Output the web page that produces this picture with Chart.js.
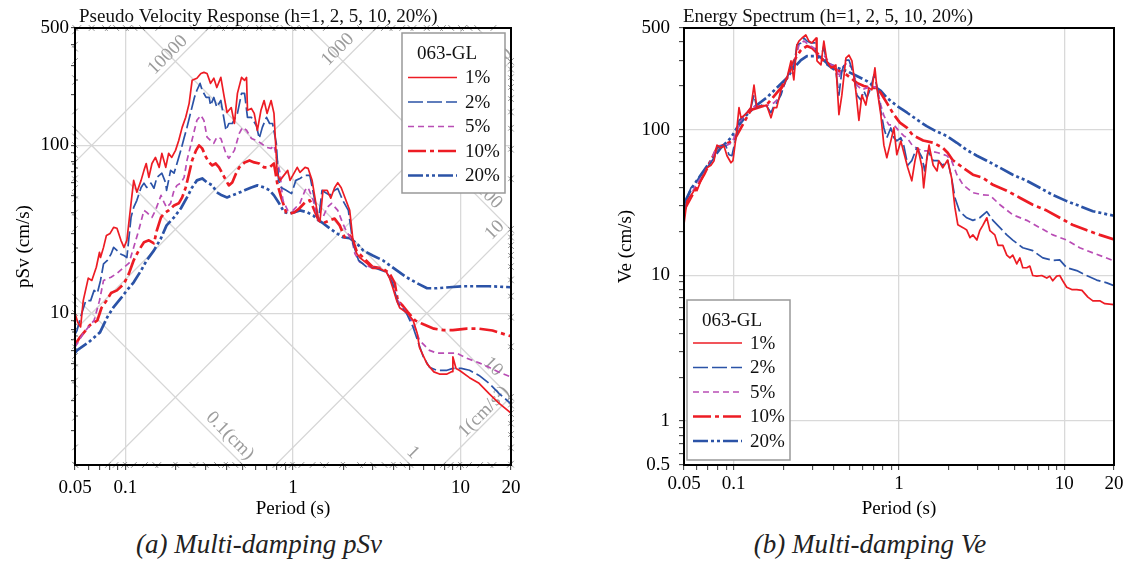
<!DOCTYPE html>
<html><head><meta charset="utf-8">
<script src="https://cdn.jsdelivr.net/npm/chart.js@4.4.1/dist/chart.umd.min.js"></script>
<style>
html,body{margin:0;padding:0;background:#fff;}
#wrap{position:relative;width:1128px;height:562px;overflow:hidden;background:#fff;}
.box{position:absolute;top:0;width:564px;height:520px;}
#b1{left:0;} #b2{left:564px;}
.cap{position:absolute;top:529px;font-family:"Liberation Serif",serif;font-style:italic;font-size:27px;color:#222;white-space:nowrap;transform:translateX(-50%);line-height:31px;}
</style></head>
<body><div id="wrap">
<div class="box" id="b1"><canvas id="c1" width="564" height="520"></canvas></div>
<div class="box" id="b2"><canvas id="c2" width="564" height="520"></canvas></div>
<div class="cap" style="left:259px">(a) Multi-damping pSv</div>
<div class="cap" style="left:870px">(b) Multi-damping Ve</div>
</div>
<script>
// ---------- data: [period (s), value (cm/s)] ----------
const psv1 = [[0.05,10.0],[0.052,8.8],[0.054,8.3],[0.056,11.9],[0.060,16.2],[0.063,15.7],[0.067,18.8],[0.070,23.1],[0.071,21.5],[0.074,24.7],[0.077,29.1],[0.081,29.9],[0.085,32.5],[0.089,32.1],[0.094,27.2],[0.098,24.7],[0.102,27.2],[0.108,45.2],[0.112,61.9],[0.117,52.6],[0.124,61.9],[0.129,71.0],[0.133,78.0],[0.138,64.5],[0.144,78.0],[0.151,84.8],[0.159,74.0],[0.165,89.6],[0.174,74.0],[0.181,89.6],[0.189,84.8],[0.199,93.4],[0.208,107],[0.218,128],[0.229,147],[0.240,178],[0.250,244],[0.267,251],[0.282,268],[0.294,272],[0.307,268],[0.322,234],[0.337,251],[0.351,221],[0.371,254],[0.389,193],[0.404,157],[0.428,168],[0.447,135],[0.466,204],[0.493,254],[0.514,244],[0.528,254],[0.535,162],[0.564,166],[0.587,155],[0.613,123],[0.644,162],[0.672,185],[0.700,155],[0.740,185],[0.770,155],[0.805,68],[0.837,61.9],[0.93,71],[0.96,61.9],[1.06,74],[1.10,69],[1.18,74],[1.23,73],[1.30,61.9],[1.36,47.1],[1.42,35.8],[1.45,35.8],[1.51,54],[1.60,54],[1.68,48.5],[1.77,56],[1.85,60],[1.94,56],[2.07,47.1],[2.18,41],[2.28,27.2],[2.40,22.7],[2.50,21.5],[2.75,19.9],[2.99,18.5],[3.29,18.5],[3.61,17.6],[3.77,16.2],[3.93,14.3],[4.16,11.9],[4.33,10.8],[4.83,10.0],[5.21,9.08],[5.51,7.6],[5.69,6.25],[6.31,5.0],[6.93,4.48],[7.48,4.35],[8.3,4.35],[8.9,4.5],[9.0,5.5],[9.4,4.7],[9.83,4.58],[11.3,4.14],[12.9,3.83],[14.8,3.33],[17.0,2.91],[20,2.55]];
const psv2 = [[0.05,7.5],[0.0514,7.9],[0.054,9.5],[0.058,11.9],[0.062,11.9],[0.065,13.7],[0.068,13.2],[0.071,15.7],[0.074,19.7],[0.078,20.7],[0.082,22.5],[0.085,24.7],[0.089,23.7],[0.094,22.5],[0.098,22.1],[0.102,21.5],[0.108,37.3],[0.112,42.7],[0.117,47.1],[0.124,56.2],[0.129,59.6],[0.134,56.2],[0.142,59.6],[0.148,55.6],[0.154,64.5],[0.165,68.3],[0.174,59.6],[0.176,54.0],[0.186,71.0],[0.195,68.3],[0.203,78.0],[0.214,93.4],[0.224,111],[0.233,128],[0.247,162],[0.258,193],[0.267,213],[0.279,234],[0.287,213],[0.303,193],[0.316,193],[0.322,173],[0.337,193],[0.351,169],[0.371,185],[0.398,123],[0.414,135],[0.434,135],[0.466,155],[0.493,204],[0.514,204],[0.535,147],[0.564,147],[0.605,131],[0.629,110],[0.656,128],[0.695,147],[0.725,135],[0.755,135],[0.795,103],[0.82,61.9],[0.85,56.2],[0.91,54.0],[0.98,51.6],[1.04,61.9],[1.10,63.6],[1.18,66.3],[1.26,66.3],[1.36,45.2],[1.42,35.8],[1.49,54.0],[1.55,52.6],[1.66,50.4],[1.77,54.0],[1.85,55.4],[1.98,47.1],[2.14,41.0],[2.28,26.1],[2.46,20.7],[2.75,18.9],[3.14,18.5],[3.61,17.6],[3.93,15.1],[4.22,11.5],[4.76,10.0],[5.21,8.27],[5.62,6.6],[6.0,5.5],[6.52,4.78],[7.2,4.58],[8.3,4.58],[9.0,4.7],[10.1,4.7],[11.3,4.58],[12.9,4.27],[14.8,3.83],[17.0,3.33],[20,2.89]];
const psv5 = [[0.05,6.3],[0.052,6.7],[0.056,7.6],[0.065,9.08],[0.070,11.9],[0.074,15.7],[0.082,16.4],[0.089,17.3],[0.098,18.8],[0.105,19.9],[0.112,24.7],[0.120,31.2],[0.129,41.0],[0.134,39.9],[0.144,37.3],[0.151,41.0],[0.163,50.4],[0.170,45.8],[0.176,42.7],[0.186,45.2],[0.195,54.0],[0.203,57.8],[0.214,59.6],[0.224,64.5],[0.233,81.4],[0.247,103],[0.258,123],[0.267,141],[0.282,151],[0.294,141],[0.307,112],[0.322,107],[0.337,103],[0.351,112],[0.371,110],[0.398,89.6],[0.414,83.7],[0.447,93.4],[0.478,118],[0.50,128],[0.528,123],[0.564,110],[0.605,107],[0.644,103],[0.695,97.3],[0.740,95.9],[0.770,100],[0.805,81.4],[0.837,68.3],[0.87,47.1],[0.93,41.0],[1.0,41.0],[1.10,45.2],[1.18,54.0],[1.23,56.2],[1.32,47.1],[1.42,35.8],[1.51,37.3],[1.60,42.7],[1.70,45.2],[1.85,41.0],[1.98,34.4],[2.07,31.2],[2.25,27.2],[2.34,22.7],[2.50,20.2],[2.87,18.9],[3.29,18.5],[3.61,17.6],[3.87,15.7],[4.16,12.2],[4.76,10.0],[5.21,8.8],[5.69,6.9],[6.52,6.02],[7.2,5.8],[8.3,5.8],[9.5,5.8],[10.9,5.4],[12.9,5.07],[14.8,4.77],[17.0,4.46],[20,4.18]];
const psv10 = [[0.05,6.5],[0.0535,7.2],[0.0614,8.5],[0.068,9.08],[0.072,10.8],[0.077,11.9],[0.082,13.2],[0.089,13.7],[0.098,15.0],[0.105,17.3],[0.112,20.7],[0.120,23.7],[0.129,26.5],[0.138,27.2],[0.148,26.1],[0.154,31.2],[0.163,37.3],[0.170,39.3],[0.181,41.0],[0.195,43.9],[0.208,45.2],[0.218,49.0],[0.229,56.2],[0.240,68.3],[0.250,81.4],[0.264,93.4],[0.275,100],[0.287,96],[0.303,84.8],[0.316,79.2],[0.330,76.0],[0.346,78.0],[0.362,74.0],[0.376,69.1],[0.398,61.9],[0.414,57.8],[0.434,60.2],[0.457,68.1],[0.478,74],[0.514,79.2],[0.550,81.4],[0.587,79.2],[0.629,78.0],[0.672,74.0],[0.725,74.0],[0.770,78.0],[0.805,59.6],[0.85,49.0],[0.91,40.0],[0.96,39.3],[1.02,40.0],[1.09,42.1],[1.18,45.8],[1.26,47.1],[1.32,42.7],[1.42,35.8],[1.51,34.4],[1.66,35.8],[1.77,36.7],[1.90,33.4],[2.03,28.4],[2.18,29.1],[2.28,27.2],[2.40,23.4],[2.62,21.5],[2.99,18.9],[3.43,18.5],[3.77,17.3],[4.05,15.1],[4.22,11.9],[4.52,11.1],[4.83,10.2],[5.35,9.08],[6.0,8.6],[6.93,8.1],[7.9,7.95],[9.0,7.95],[10.9,8.1],[12.9,8.1],[15.5,7.9],[20,7.3]];
const psv20 = [[0.05,5.8],[0.0514,6.02],[0.060,6.7],[0.0705,7.7],[0.078,9.5],[0.085,10.9],[0.094,12.3],[0.102,13.7],[0.112,15.3],[0.124,18.0],[0.134,20.7],[0.148,23.7],[0.163,28.0],[0.176,33.4],[0.195,37.3],[0.214,42.1],[0.233,49.0],[0.250,56.2],[0.267,61.9],[0.287,63.6],[0.307,60.2],[0.330,57.8],[0.351,52.6],[0.376,50.4],[0.404,49.0],[0.434,50.4],[0.466,51.8],[0.514,54.0],[0.564,56.2],[0.613,57.8],[0.672,56.2],[0.725,54.0],[0.770,50.4],[0.826,45.2],[0.887,40.0],[0.95,39.3],[1.02,40.0],[1.10,41.0],[1.21,40.0],[1.32,38.3],[1.42,35.8],[1.51,34.4],[1.66,32.0],[1.83,29.9],[1.98,28.4],[2.18,28.0],[2.40,26.1],[2.62,23.7],[2.99,22.1],[3.43,20.7],[3.93,18.8],[4.76,16.4],[5.51,15.1],[6.31,14.1],[7.2,14.1],[8.57,14.3],[10.3,14.5],[12.5,14.5],[14.8,14.5],[20,14.3]];

const ve1 = [[0.05,22.5],[0.0521,32.5],[0.0551,35.5],[0.0575,38.2],[0.0591,40.0],[0.0599,38.2],[0.0633,44.7],[0.0661,49.2],[0.0689,54.9],[0.0728,57.1],[0.076,61.4],[0.0792,78.5],[0.0837,75.3],[0.0873,77.5],[0.091,66.4],[0.0962,59.4],[0.0989,61.4],[0.1031,88.2],[0.1076,142],[0.1106,121],[0.1153,125],[0.120,131],[0.127,142],[0.1326,203],[0.138,142],[0.144,146],[0.152,146],[0.158,148],[0.168,121],[0.175,142],[0.182,142],[0.193,188],[0.201,203],[0.210,227],[0.222,297],[0.231,220],[0.241,382],[0.248,407],[0.259,427],[0.273,448],[0.285,407],[0.297,395],[0.315,427],[0.319,297],[0.337,279],[0.351,407],[0.366,297],[0.388,266],[0.415,279],[0.433,127],[0.451,173],[0.477,311],[0.498,326],[0.519,297],[0.548,185],[0.572,116],[0.596,173],[0.630,148],[0.657,194],[0.685,188],[0.715,266],[0.735,194],[0.776,127],[0.810,78.5],[0.844,64.3],[0.892,83.7],[0.931,103],[0.970,67.4],[1.026,83.7],[1.07,69.6],[1.13,54.9],[1.195,44.7],[1.25,61.4],[1.30,75.3],[1.38,54.9],[1.41,40.0],[1.47,61.4],[1.52,78.5],[1.61,57.1],[1.70,52.2],[1.74,61.4],[1.84,54.9],[1.97,62.0],[2.08,46.9],[2.18,29.2],[2.27,22.3],[2.44,21.3],[2.57,20.5],[2.69,18.2],[2.80,19.0],[2.96,17.5],[3.08,20.3],[3.21,22.0],[3.40,24.9],[3.55,20.3],[3.80,19.0],[3.97,16.1],[4.25,16.1],[4.49,13.8],[4.69,13.2],[4.88,13.8],[5.16,12.0],[5.39,13.2],[5.61,11.3],[5.93,11.3],[6.19,11.6],[6.45,10.0],[6.82,9.9],[7.31,10.0],[7.84,9.6],[8.17,9.9],[8.52,9.2],[9.0,9.9],[9.39,10.0],[9.79,9.2],[10.35,8.3],[11.1,8.0],[11.9,8.0],[12.8,7.9],[13.9,7.1],[14.9,6.7],[16.4,6.7],[17.6,6.4],[20,6.3]];
const ve2 = [[0.05,25.0],[0.0521,33.5],[0.0551,40.0],[0.0575,42.0],[0.0616,46.9],[0.0661,52.2],[0.0708,57.1],[0.076,64.3],[0.0792,75.3],[0.0837,77.5],[0.0897,77.5],[0.0936,67.4],[0.0975,66.4],[0.1031,88.2],[0.1076,116],[0.112,121],[0.120,131],[0.127,142],[0.1326,173],[0.138,142],[0.148,148],[0.158,146],[0.168,131],[0.175,146],[0.182,153],[0.193,173],[0.201,200],[0.210,227],[0.222,274],[0.231,266],[0.241,382],[0.255,395],[0.266,427],[0.277,407],[0.293,395],[0.310,395],[0.319,326],[0.337,311],[0.351,376],[0.366,279],[0.388,266],[0.415,253],[0.433,173],[0.451,253],[0.477,301],[0.498,301],[0.533,238],[0.556,173],[0.588,160],[0.613,185],[0.639,166],[0.675,194],[0.705,238],[0.735,200],[0.776,135],[0.810,103],[0.844,88.2],[0.892,103],[0.931,88.2],[0.970,84.0],[1.026,88.2],[1.07,77.5],[1.13,57.1],[1.195,61.4],[1.28,75.3],[1.38,64.3],[1.43,52.2],[1.50,71.6],[1.61,61.4],[1.72,61.4],[1.84,57.1],[1.97,61.4],[2.08,46.9],[2.18,34.2],[2.33,27.4],[2.57,24.9],[2.80,23.9],[3.08,24.9],[3.40,27.4],[3.70,23.9],[4.08,21.3],[4.49,19.0],[4.88,17.5],[5.61,15.5],[6.45,14.8],[7.42,13.2],[8.52,12.7],[9.39,12.8],[10.35,11.3],[11.9,10.8],[13.6,10.0],[15.7,9.3],[18.1,8.9],[20,8.5]];
const ve5 = [[0.05,28.5],[0.0544,35.0],[0.0616,45.3],[0.0708,57.1],[0.0792,77.5],[0.091,78.5],[0.0975,81.5],[0.1003,88.2],[0.1106,117],[0.127,142],[0.138,146],[0.156,146],[0.175,153],[0.188,166],[0.201,200],[0.222,266],[0.231,279],[0.248,382],[0.266,407],[0.285,382],[0.306,365],[0.319,321],[0.351,326],[0.388,279],[0.415,274],[0.433,227],[0.451,266],[0.484,288],[0.519,266],[0.556,203],[0.596,188],[0.640,194],[0.685,200],[0.735,194],[0.776,148],[0.810,125],[0.868,108],[0.931,108],[0.998,98.5],[1.07,90.8],[1.12,88.2],[1.21,77.5],[1.38,71.6],[1.54,71.6],[1.72,69.6],[1.95,66.4],[2.08,61.4],[2.24,49.2],[2.44,41.9],[2.80,37.0],[3.21,35.8],[3.55,35.5],[4.08,30.6],[4.88,26.1],[5.93,23.9],[7.11,21.3],[8.52,19.0],[10.35,17.5],[12.4,15.5],[14.9,14.3],[20,12.6]];
const ve10 = [[0.05,28.0],[0.0575,37.6],[0.0661,49.2],[0.0792,75.3],[0.1003,84.5],[0.127,137],[0.158,148],[0.193,194],[0.210,227],[0.231,297],[0.255,353],[0.277,376],[0.297,365],[0.319,337],[0.351,297],[0.388,274],[0.421,256],[0.464,246],[0.512,227],[0.556,210],[0.613,200],[0.676,194],[0.725,194],[0.776,179],[0.844,153],[0.931,127],[1.012,112],[1.12,103],[1.21,92],[1.40,84.5],[1.61,81.5],[1.84,75.3],[1.97,69.6],[2.11,62.0],[2.44,54.9],[2.80,49.2],[3.21,46.9],[3.70,41.9],[4.49,38.2],[5.38,34.2],[6.45,30.6],[7.84,27.9],[9.39,24.9],[11.2,22.3],[13.6,20.5],[16.4,19.0],[20,17.7]];
const ve20 = [[0.05,31.0],[0.0551,39.0],[0.0633,49.2],[0.0728,61.4],[0.0837,75.3],[0.0962,88.2],[0.1045,103],[0.120,127],[0.138,148],[0.158,166],[0.182,194],[0.210,227],[0.231,266],[0.255,301],[0.277,321],[0.306,321],[0.337,311],[0.366,288],[0.424,266],[0.484,253],[0.556,234],[0.640,216],[0.705,200],[0.776,185],[0.844,166],[0.970,146],[1.12,131],[1.29,117],[1.47,106],[1.67,98],[1.95,90.6],[2.24,81.5],[2.57,72.7],[2.96,66.4],[3.40,61.4],[4.08,54.9],[4.88,49.2],[5.93,44.7],[7.11,40.0],[8.52,35.7],[10.35,32.4],[12.4,30.0],[14.9,27.6],[20,25.7]];

// ---------- axes / ticks ----------
const periodTicks = [0.05,0.06,0.07,0.08,0.09,0.1,0.2,0.3,0.4,0.5,0.6,0.7,0.8,0.9,1,2,3,4,5,6,7,8,9,10,20];
const periodLabels = [0.05,0.1,1,10,20];
const periodGrid = [0.1,1,10];
const psvTicks = [2,3,4,5,6,7,8,9,10,20,30,40,50,60,70,80,90,100,200,300,400,500];
const psvLabels = [10,100,500];
const psvGrid = [10,100];
const veTicks = [0.5,0.6,0.7,0.8,0.9,1,2,3,4,5,6,7,8,9,10,20,30,40,50,60,70,80,90,100,200,300,400,500];
const veLabels = [0.5,1,10,100,500];
const veGrid = [1,10,100];
const dampLabels = ['1%','2%','5%','10%','20%'];
const stationName = '063-GL';
// tripartite reference lines
const dispLines = [0.1,1,10,100,1000];      // Sd (cm)
const accLines = [1,10,100,1000,10000];     // Sa (cm/s²)
const triMinorK = [1,2,3,4,5,6,7,8,9];
const triMinorExp = [-3,-2,-1,0,1,2,3,4,5];
const triLabels = [
  {fam:'a', v:10000, T:0.179, dy:-14, text:'10000'},
  {fam:'a', v:1000, T:1.85, dy:-17, text:'1000'},
  {fam:'a', v:100, T:17.0, dy:-12, text:'100'},
  {fam:'a', v:10, T:16.0, dy:-15, text:'10'},
  {fam:'a', v:1, T:13.8, dy:-12, text:'1(cm/s²)'},
  {fam:'d', v:100, T:14.8, dy:-12, text:'100'},
  {fam:'d', v:10, T:15.6, dy:-13, text:'10'},
  {fam:'d', v:0.1, T:0.42, dy:-16, text:'0.1(cm)'},
  {fam:'d', v:1, T:5.2, dy:-15, text:'1'}
];

const RED = '#ed1c24', BLUE = '#2b53a7', MAG = '#b94db5';
const styles = [
  {color:RED, width:1.7, dash:[]},
  {color:BLUE, width:1.7, dash:[15,4]},
  {color:MAG, width:1.7, dash:[6,4]},
  {color:RED, width:2.7, dash:[18,4,4,4]},
  {color:BLUE, width:2.7, dash:[15,3,3,3,3,3]}
];
const FONT = '"Liberation Serif", "Times New Roman", serif';

function datasets(series){
  return series.map((s,i)=>({
    label: dampLabels[i],
    data: s.map(p=>({x:p[0], y:p[1]})),
    borderColor: styles[i].color,
    borderWidth: styles[i].width,
    borderDash: styles[i].dash,
    borderJoinStyle: 'round',
    pointRadius: 0,
    fill: false,
    tension: 0,
    clip: 0
  }));
}

function logAxis(o){
  return {
    type:'logarithmic', min:o.min, max:o.max,
    afterBuildTicks: s => { s.ticks = o.ticks.map(v=>({value:v})); },
    afterFit: s => { if (o.width) s.width = o.width; if (o.height) s.height = o.height; },
    ticks:{autoSkip:false, maxRotation:0, minRotation:0, padding:o.pad, color:'#000',
      font:{family:FONT, size:19},
      callback: v => o.labels.includes(v) ? String(v) : ''},
    grid:{color: c => (c.tick && o.grid.includes(c.tick.value)) ? '#d9d9d9' : 'rgba(0,0,0,0)',
      lineWidth:1.3, tickLength:o.tl, tickColor:'#333', tickWidth:1, drawTicks:true},
    border:{display:false},
    title:{display:true, text:o.title, color:'#000', font:{family:FONT, size:19}, padding:o.tpad}
  };
}

const framePlugin = {
  id:'frame',
  afterDatasetsDraw(chart, args, opts){
    const {ctx, chartArea:ca} = chart;
    ctx.save();
    ctx.strokeStyle = '#000'; ctx.lineWidth = 2;
    ctx.strokeRect(ca.left, ca.top, ca.right-ca.left, ca.bottom-ca.top);
    const L = opts.legend;
    const w = 103, h = 160;
    const bx = L.anchor === 'tr' ? ca.right - 6 - w : ca.left + 3;
    const by = L.anchor === 'tr' ? ca.top + 5 : ca.bottom - 5 - h;
    ctx.fillStyle = '#fff'; ctx.fillRect(bx, by, w, h);
    ctx.strokeStyle = '#999'; ctx.lineWidth = 1.5; ctx.strokeRect(bx, by, w, h);
    ctx.font = '19px ' + FONT; ctx.fillStyle = '#111';
    ctx.textBaseline = 'middle'; ctx.textAlign = 'center';
    ctx.fillText(stationName, bx + 45, by + 21);
    ctx.textAlign = 'left';
    chart.data.datasets.forEach((ds,i) => {
      const yy = by + L.first + i*24.5;
      ctx.save();
      ctx.strokeStyle = ds.borderColor; ctx.lineWidth = ds.borderWidth;
      ctx.setLineDash(ds.borderDash || []);
      ctx.beginPath(); ctx.moveTo(bx + 6, yy); ctx.lineTo(bx + 55, yy); ctx.stroke();
      ctx.restore();
      ctx.fillText(ds.label, bx + 63, yy + 1);
    });
    ctx.textBaseline = 'alphabetic'; ctx.textAlign = 'left'; ctx.fillStyle = '#111';
    ctx.fillText(opts.title, ca.left + opts.titleDx, 22);
    ctx.restore();
  }
};

const triPlugin = {
  id:'tri',
  beforeDatasetsDraw(chart){
    const {ctx, chartArea:ca, scales:{x, y}} = chart;
    const f = (fam, v, T) => fam === 'd' ? 2*Math.PI*v/T : v*T/(2*Math.PI);
    const finv = (fam, v, p) => fam === 'd' ? 2*Math.PI*v/p : 2*Math.PI*p/v;
    const P = (T, p) => [x.getPixelForValue(T), y.getPixelForValue(p)];
    const dir = (fam) => {
      const a = P(1, f(fam, 1, 1)), b = P(10, f(fam, 1, 10));
      const dx = b[0]-a[0], dy = b[1]-a[1], n = Math.hypot(dx, dy);
      return [dx/n, dy/n];
    };
    ctx.save();
    ctx.beginPath(); ctx.rect(ca.left, ca.top, ca.right-ca.left, ca.bottom-ca.top); ctx.clip();
    ctx.strokeStyle = '#d6d6d6'; ctx.lineWidth = 1.3;
    const seg = (a, b) => { ctx.beginPath(); ctx.moveTo(a[0], a[1]); ctx.lineTo(b[0], b[1]); ctx.stroke(); };
    dispLines.forEach(v => seg(P(x.min, f('d', v, x.min)), P(x.max, f('d', v, x.max))));
    accLines.forEach(v => seg(P(x.min, f('a', v, x.min)), P(x.max, f('a', v, x.max))));
    // labels
    ctx.font = '19px ' + FONT; ctx.fillStyle = '#9c9c9c';
    ctx.textAlign = 'center'; ctx.textBaseline = 'middle';
    triLabels.forEach(l => {
      const p = P(l.T, f(l.fam, l.v, l.T));
      const d = dir(l.fam);
      ctx.save(); ctx.translate(p[0], p[1] + l.dy); ctx.rotate(Math.atan2(d[1], d[0]));
      ctx.fillText(l.text, 0, 0); ctx.restore();
    });
    ctx.restore();
    // small edge ticks of the tripartite grid
    ctx.save();
    ctx.strokeStyle = '#8f8f8f'; ctx.lineWidth = 1;
    ['d','a'].forEach(fam => {
      const d = dir(fam);
      triMinorExp.forEach(e => triMinorK.forEach(k => {
        const v = k * Math.pow(10, e);
        const pts = [];
        [x.min, x.max].forEach(T => { const p = f(fam, v, T); if (p >= y.min && p <= y.max) pts.push([T, p]); });
        [y.min, y.max].forEach(p => { const T = finv(fam, v, p); if (T >= x.min && T <= x.max) pts.push([T, p]); });
        pts.forEach(q => {
          const c = P(q[0], q[1]);
          ctx.beginPath(); ctx.moveTo(c[0]-d[0]*4, c[1]-d[1]*4); ctx.lineTo(c[0]+d[0]*4, c[1]+d[1]*4); ctx.stroke();
        });
      }));
    });
    ctx.restore();
  }
};

new Chart(document.getElementById('c1'), {
  type:'line',
  data:{datasets: datasets([psv1, psv2, psv5, psv10, psv20])},
  options:{
    responsive:false, maintainAspectRatio:false, animation:false, events:[],
    layout:{padding:{top:28, right:53, left:0, bottom:0}},
    scales:{
      x: logAxis({min:0.05, max:20, ticks:periodTicks, labels:periodLabels, grid:periodGrid, title:'Period (s)', height:55, pad:7, tl:5, tpad:{top:0,bottom:0}}),
      y: logAxis({min:1.25, max:500, ticks:psvTicks, labels:psvLabels, grid:psvGrid, title:'pSv (cm/s)', width:75, pad:2, tl:4, tpad:{top:12.6,bottom:0}})
    },
    plugins:{legend:{display:false}, tooltip:{enabled:false},
      frame:{legend:{anchor:'tr', first:44.5}, title:'Pseudo Velocity Response (h=1, 2, 5, 10, 20%)', titleDx:4}}
  },
  plugins:[triPlugin, framePlugin]
});

new Chart(document.getElementById('c2'), {
  type:'line',
  data:{datasets: datasets([ve1, ve2, ve5, ve10, ve20])},
  options:{
    responsive:false, maintainAspectRatio:false, animation:false, events:[],
    layout:{padding:{top:28, right:14, left:0, bottom:0}},
    scales:{
      x: logAxis({min:0.05, max:20, ticks:periodTicks, labels:periodLabels, grid:periodGrid, title:'Period (s)', height:55, pad:3, tl:5, tpad:{top:0,bottom:0}}),
      y: logAxis({min:0.5, max:500, ticks:veTicks, labels:veLabels, grid:veGrid, title:'Ve (cm/s)', width:120, pad:9, tl:5, tpad:{top:50.6,bottom:0}})
    },
    plugins:{legend:{display:false}, tooltip:{enabled:false},
      frame:{legend:{anchor:'bl', first:43}, title:'Energy Spectrum (h=1, 2, 5, 10, 20%)', titleDx:-1}}
  },
  plugins:[framePlugin]
});
</script>
</body></html>
